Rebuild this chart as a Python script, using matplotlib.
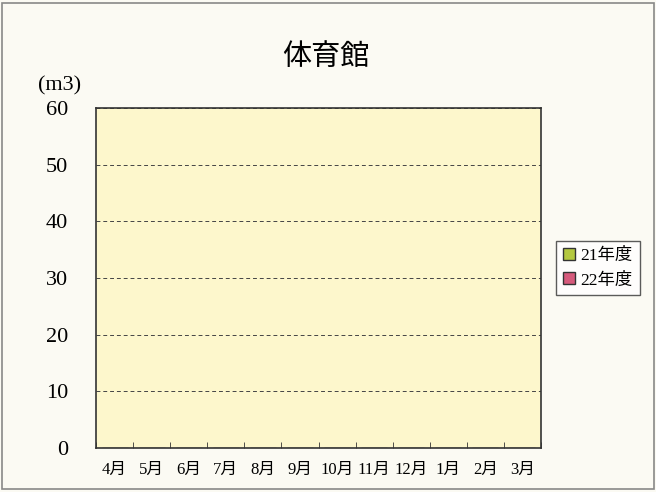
import numpy as np
import matplotlib.pyplot as plt
from matplotlib.patches import Rectangle

# Data (no values plotted in the original chart)
months = ['4月', '5月', '6月', '7月', '8月', '9月', '10月', '11月', '12月', '1月', '2月', '3月']
fy21 = [0, 0, 0, 0, 0, 0, 0, 0, 0, 0, 0, 0]
fy22 = [0, 0, 0, 0, 0, 0, 0, 0, 0, 0, 0, 0]
series_names = ['21年度', '22年度']
yticks = [0, 10, 20, 30, 40, 50, 60]

fam = ['Liberation Serif', 'Noto Sans CJK JP']
plt.rcParams['font.family'] = fam

fig = plt.figure(figsize=(6.56, 4.92), dpi=100, facecolor='#fbfaf3')
ax = fig.add_axes([96/656, 1 - 448/492, 445/656, 340/492])
ax.set_facecolor('#fdf7cc')

x = np.arange(len(months))
w = 0.35
ax.bar(x - w/2, fy21, w, color='#b4c840', edgecolor='#333333', label=series_names[0])
ax.bar(x + w/2, fy22, w, color='#d65a7c', edgecolor='#333333', label=series_names[1])

ax.set_xlim(-0.5, len(months) - 0.5)
ax.set_ylim(0, 60)
ax.set_yticks(yticks)
ax.set_yticklabels([str(v) for v in yticks], fontsize=16)
ax.tick_params(axis='y', length=0, pad=20)

ax.set_xticks(x)
ax.set_xticklabels(months, fontsize=12)
ax.tick_params(axis='x', length=0, pad=10)
ax.set_xticks(np.arange(len(months) + 1) - 0.5, minor=True)
ax.tick_params(axis='x', which='minor', direction='in', length=4, color='#333333')

ax.yaxis.grid(True, linestyle=(0, (4, 3)), color='#444444', linewidth=0.7)
ax.set_axisbelow(True)
for s in ax.spines.values():
    s.set_color('#333333')
    s.set_linewidth(1.2)

fig.text(326/656, 1 - 58/492, '体育館', ha='center', va='center', fontsize=21)
fig.text(38/656, 1 - 86/492, '(m3)', ha='left', va='center', fontsize=16)

ax.legend(loc='center left', bbox_to_anchor=(556/656, 1 - 268/492),
          bbox_transform=fig.transFigure, borderaxespad=0, fontsize=12.5,
          frameon=True, fancybox=False, edgecolor='#333333', facecolor='white',
          handlelength=0.7, handleheight=0.7, handletextpad=0.3,
          borderpad=0.4, labelspacing=0.5)

fig.patches.append(Rectangle((0.003, 0.006), 0.994, 0.988, transform=fig.transFigure,
                             fill=False, edgecolor='#888888', linewidth=1.2))

fig.savefig('out.png', dpi=100, facecolor=fig.get_facecolor())
